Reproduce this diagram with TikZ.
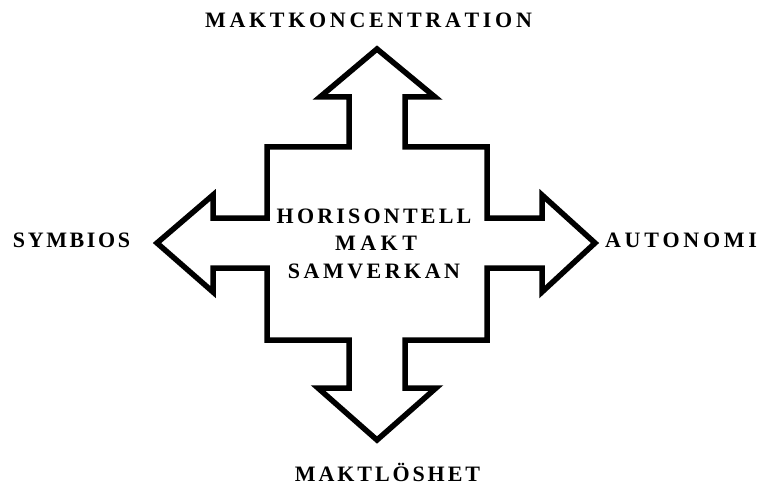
\documentclass[tikz,border=0pt]{standalone}
\usepackage{fontspec}
\setmainfont{Liberation Serif}
\makeatletter
\newcommand\spacedtext[2]{\def\st@first{1}\@tfor\st@c:=#2\do{\ifnum\st@first=0 \kern#1\fi\st@c\def\st@first{0}}}
\makeatother
\begin{document}
\begin{tikzpicture}[x=1pt,y=-1pt,
  lbl/.style={font=\fontsize{22}{26}\selectfont\bfseries, inner sep=0pt, anchor=base},
  crossarrow/.style={draw=black, line width=5.5pt, line join=miter, fill=white}]
\useasboundingbox (0,0) rectangle (759,486);
\fill[white] (0,0) rectangle (759,486);
\draw[crossarrow] (377,49) -- (435,97) -- (405,97) -- (405,147) -- (487,147) -- (487,218)
  -- (542,218) -- (542,195) -- (595,243) -- (542,292) -- (542,268) -- (487,268) -- (487,340)
  -- (405,340) -- (405,388) -- (436,388) -- (377,440) -- (318,388) -- (349,388) -- (349,340)
  -- (267,340) -- (267,268) -- (213,268) -- (213,292) -- (157,243) -- (213,195) -- (213,218)
  -- (267,218) -- (267,147) -- (349,147) -- (349,97) -- (320,97) -- cycle;
\node[lbl] (top) at (368.5,28) {\spacedtext{3.7pt}{MAKTKONCENTRATION}};
\node[lbl] (left) at (71.5,247) {\spacedtext{2.6pt}{SYMBIOS}};
\node[lbl] (right) at (681,247) {\spacedtext{3.7pt}{AUTONOMI}};
\node[lbl] (bottom) at (387.5,481) {\spacedtext{2.9pt}{MAKTLÖSHET}};
\node[lbl] (c1) at (374,223) {\spacedtext{3.2pt}{HORISONTELL}};
\node[lbl] (c2) at (376,250) {\spacedtext{4.5pt}{MAKT}};
\node[lbl] (c3) at (374,278) {\spacedtext{3.5pt}{SAMVERKAN}};
\end{tikzpicture}
\end{document}
